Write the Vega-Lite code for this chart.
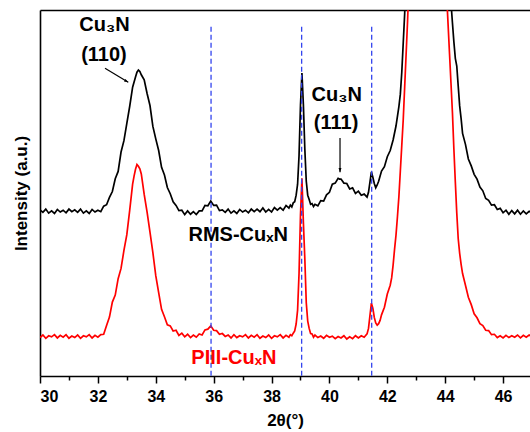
{
  "$schema": "https://vega.github.io/schema/vega-lite/v6.json",
  "autosize": "none",
  "width": 490,
  "height": 366,
  "padding": {"left": 40, "top": 10, "right": 0, "bottom": 56},
  "background": "white",
  "config": {"view": {"stroke": null}, "font": "Liberation Sans"},
  "datasets": {
    "rms": [
      {"t":30.0,"i":45.4},{"t":30.1,"i":44.7},{"t":30.2,"i":45.6},{"t":30.3,"i":44.5},{"t":30.4,"i":45.1},{"t":30.5,"i":44.4},{"t":30.6,"i":45.5},{"t":30.7,"i":44.8},{"t":30.8,"i":45.3},{"t":30.9,"i":44.6},
      {"t":31.0,"i":45.6},{"t":31.1,"i":44.9},{"t":31.2,"i":45.4},{"t":31.3,"i":44.7},{"t":31.4,"i":45.6},{"t":31.5,"i":44.5},{"t":31.6,"i":45.1},{"t":31.7,"i":44.4},{"t":31.8,"i":45.5},{"t":31.9,"i":44.8},
      {"t":32.0,"i":45.3},{"t":32.1,"i":44.9},{"t":32.2,"i":46.4},{"t":32.3,"i":46.8},{"t":32.4,"i":48.8},{"t":32.5,"i":50.4},{"t":32.6,"i":53.9},{"t":32.7,"i":55.9},{"t":32.8,"i":61.2},{"t":32.9,"i":64.3},
      {"t":33.0,"i":69.0},{"t":33.1,"i":73.7},{"t":33.2,"i":78.9},{"t":33.3,"i":81.7},{"t":33.35,"i":83.0},{"t":33.4,"i":83.6},{"t":33.45,"i":83.2},{"t":33.5,"i":82.3},{"t":33.6,"i":80.9},{"t":33.7,"i":77.2},{"t":33.8,"i":73.9},{"t":33.9,"i":68.2},
      {"t":34.0,"i":64.8},{"t":34.1,"i":61.6},{"t":34.2,"i":57.0},{"t":34.3,"i":54.9},{"t":34.4,"i":51.5},{"t":34.5,"i":49.8},{"t":34.6,"i":47.6},{"t":34.7,"i":46.6},{"t":34.8,"i":45.2},{"t":34.9,"i":45.3},
      {"t":35.0,"i":44.1},{"t":35.1,"i":45.1},{"t":35.2,"i":44.2},{"t":35.3,"i":44.9},{"t":35.4,"i":44.1},{"t":35.5,"i":45.1},{"t":35.6,"i":45.1},{"t":35.7,"i":46.6},{"t":35.8,"i":46.5},{"t":35.9,"i":47.8},
      {"t":36.0,"i":46.6},{"t":36.1,"i":46.7},{"t":36.2,"i":45.2},{"t":36.3,"i":45.4},{"t":36.4,"i":44.7},{"t":36.5,"i":45.6},{"t":36.6,"i":44.5},{"t":36.7,"i":45.1},{"t":36.8,"i":44.4},{"t":36.9,"i":45.5},
      {"t":37.0,"i":44.8},{"t":37.1,"i":45.3},{"t":37.2,"i":44.6},{"t":37.3,"i":45.6},{"t":37.4,"i":44.9},{"t":37.5,"i":45.6},{"t":37.6,"i":44.9},{"t":37.7,"i":45.9},{"t":37.8,"i":44.8},{"t":37.9,"i":45.5},
      {"t":38.0,"i":44.8},{"t":38.1,"i":46.0},{"t":38.2,"i":45.3},{"t":38.3,"i":46.0},{"t":38.4,"i":45.3},{"t":38.5,"i":46.6},{"t":38.6,"i":45.9},{"t":38.65,"i":46.7},{"t":38.7,"i":46.2},{"t":38.75,"i":47.3},
      {"t":38.8,"i":47.6},{"t":38.85,"i":49.4},{"t":38.9,"i":52.4},{"t":38.95,"i":60.2},{"t":39.0,"i":74.0},{"t":39.05,"i":82.8},{"t":39.1,"i":74.2},{"t":39.15,"i":62.0},{"t":39.2,"i":53.2},{"t":39.25,"i":49.4},
      {"t":39.3,"i":48.2},{"t":39.35,"i":46.9},{"t":39.4,"i":47.1},{"t":39.45,"i":46.3},{"t":39.5,"i":46.9},{"t":39.6,"i":46.5},{"t":39.7,"i":47.9},{"t":39.8,"i":47.8},{"t":39.9,"i":49.5},
      {"t":40.0,"i":50.2},{"t":40.1,"i":52.4},{"t":40.2,"i":52.7},{"t":40.3,"i":54.0},{"t":40.35,"i":53.8},{"t":40.4,"i":53.8},{"t":40.5,"i":52.7},{"t":40.6,"i":52.6},{"t":40.7,"i":51.1},{"t":40.8,"i":51.4},{"t":40.9,"i":49.9},
      {"t":41.0,"i":50.5},{"t":41.1,"i":49.4},{"t":41.2,"i":49.7},{"t":41.3,"i":48.9},{"t":41.35,"i":50.2},{"t":41.4,"i":53.0},{"t":41.45,"i":55.8},{"t":41.5,"i":54.3},{"t":41.55,"i":52.6},{"t":41.6,"i":51.4},
      {"t":41.65,"i":52.2},{"t":41.7,"i":53.2},{"t":41.8,"i":56.0},{"t":41.9,"i":57.2},{"t":42.0,"i":59.9},{"t":42.1,"i":61.6},{"t":42.2,"i":64.5},{"t":42.3,"i":68.3},{"t":42.4,"i":73.6},{"t":42.45,"i":77.0},
      {"t":42.5,"i":83.0},{"t":42.55,"i":91.0},{"t":42.6,"i":99.0},{"t":42.65,"i":110},{"t":42.7,"i":125},{"t":42.8,"i":160},{"t":43.0,"i":250},{"t":43.35,"i":350},{"t":43.7,"i":250},{"t":43.9,"i":180},
      {"t":44.0,"i":145},{"t":44.1,"i":118},{"t":44.15,"i":108},{"t":44.2,"i":102},{"t":44.25,"i":96.5},{"t":44.3,"i":91.3},{"t":44.35,"i":86.8},{"t":44.4,"i":84.7},{"t":44.45,"i":79.2},{"t":44.5,"i":73.8},
      {"t":44.55,"i":70.3},{"t":44.6,"i":66.3},{"t":44.7,"i":63.3},{"t":44.8,"i":59.3},{"t":44.9,"i":57.4},{"t":45.0,"i":55.1},{"t":45.1,"i":53.8},{"t":45.2,"i":51.6},{"t":45.3,"i":50.6},{"t":45.4,"i":48.5},
      {"t":45.5,"i":48.0},{"t":45.6,"i":46.7},{"t":45.7,"i":46.8},{"t":45.8,"i":45.5},{"t":45.9,"i":45.8},{"t":46.0,"i":44.6},{"t":46.1,"i":45.3},{"t":46.2,"i":44.2},{"t":46.3,"i":45.2},{"t":46.4,"i":44.3},
      {"t":46.5,"i":45.3},{"t":46.6,"i":44.2},{"t":46.7,"i":45.1},{"t":46.8,"i":44.3},{"t":46.9,"i":45.0},{"t":47.0,"i":44.5}
    ],
    "piii": [
      {"t":30.0,"i":10.5},{"t":30.1,"i":11.2},{"t":30.2,"i":10.3},{"t":30.3,"i":11.0},{"t":30.4,"i":10.7},{"t":30.5,"i":11.3},{"t":30.6,"i":10.4},{"t":30.7,"i":11.1},{"t":30.8,"i":10.6},{"t":30.9,"i":11.3},
      {"t":31.0,"i":10.3},{"t":31.1,"i":10.9},{"t":31.2,"i":10.5},{"t":31.3,"i":11.2},{"t":31.4,"i":10.3},{"t":31.5,"i":11.0},{"t":31.6,"i":10.7},{"t":31.7,"i":11.3},{"t":31.8,"i":10.4},{"t":31.9,"i":11.1},
      {"t":32.0,"i":10.6},{"t":32.1,"i":11.3},{"t":32.2,"i":11.4},{"t":32.3,"i":13.8},{"t":32.4,"i":16.1},{"t":32.5,"i":20.2},{"t":32.6,"i":22.1},{"t":32.7,"i":26.6},{"t":32.8,"i":29.4},{"t":32.9,"i":34.3},
      {"t":33.0,"i":38.6},{"t":33.1,"i":45.3},{"t":33.2,"i":52.4},{"t":33.25,"i":54.6},{"t":33.3,"i":56.5},{"t":33.35,"i":57.8},{"t":33.4,"i":57.3},{"t":33.45,"i":56.6},{"t":33.5,"i":55.2},{"t":33.6,"i":49.6},
      {"t":33.7,"i":44.8},{"t":33.8,"i":39.3},{"t":33.9,"i":33.7},{"t":34.0,"i":27.4},{"t":34.1,"i":22.8},{"t":34.2,"i":18.2},{"t":34.3,"i":16.2},{"t":34.4,"i":14.0},{"t":34.5,"i":13.7},{"t":34.6,"i":12.3},
      {"t":34.7,"i":12.5},{"t":34.8,"i":11.1},{"t":34.9,"i":11.7},{"t":35.0,"i":10.7},{"t":35.1,"i":11.4},{"t":35.2,"i":10.5},{"t":35.3,"i":11.2},{"t":35.4,"i":10.6},{"t":35.5,"i":11.5},{"t":35.6,"i":11.2},
      {"t":35.7,"i":12.6},{"t":35.8,"i":12.8},{"t":35.9,"i":13.7},{"t":36.0,"i":12.5},{"t":36.1,"i":12.4},{"t":36.2,"i":11.4},{"t":36.3,"i":11.6},{"t":36.4,"i":10.8},{"t":36.5,"i":11.2},{"t":36.6,"i":10.4},
      {"t":36.7,"i":11.3},{"t":36.8,"i":10.5},{"t":36.9,"i":11.0},{"t":37.0,"i":10.7},{"t":37.1,"i":11.3},{"t":37.2,"i":10.4},{"t":37.3,"i":11.1},{"t":37.4,"i":10.6},{"t":37.5,"i":11.3},{"t":37.6,"i":10.3},
      {"t":37.7,"i":10.9},{"t":37.8,"i":10.5},{"t":37.9,"i":11.2},{"t":38.0,"i":10.3},{"t":38.1,"i":11.0},{"t":38.2,"i":10.7},{"t":38.3,"i":11.3},{"t":38.4,"i":10.4},{"t":38.5,"i":11.1},{"t":38.6,"i":10.6},
      {"t":38.65,"i":11.3},{"t":38.7,"i":11.0},{"t":38.75,"i":11.7},{"t":38.8,"i":12.3},{"t":38.85,"i":14.2},{"t":38.9,"i":18.0},{"t":38.95,"i":28.0},{"t":39.0,"i":44.0},{"t":39.05,"i":54.0},{"t":39.1,"i":42.0},
      {"t":39.15,"i":32.0},{"t":39.2,"i":20.0},{"t":39.25,"i":15.0},{"t":39.3,"i":13.0},{"t":39.35,"i":11.6},{"t":39.4,"i":11.5},{"t":39.45,"i":10.6},{"t":39.5,"i":11.2},{"t":39.6,"i":10.5},{"t":39.7,"i":10.9},
      {"t":39.8,"i":10.3},{"t":39.9,"i":11.1},{"t":40.0,"i":10.6},{"t":40.1,"i":10.9},{"t":40.2,"i":10.2},{"t":40.3,"i":10.8},{"t":40.4,"i":10.4},{"t":40.5,"i":11.0},{"t":40.6,"i":10.1},{"t":40.7,"i":10.7},
      {"t":40.8,"i":10.2},{"t":40.9,"i":11.0},{"t":41.0,"i":10.4},{"t":41.1,"i":11.0},{"t":41.2,"i":10.6},{"t":41.3,"i":11.5},{"t":41.35,"i":13.0},{"t":41.4,"i":16.5},{"t":41.45,"i":19.9},{"t":41.5,"i":18.5},
      {"t":41.55,"i":16.0},{"t":41.6,"i":14.5},{"t":41.65,"i":13.9},{"t":41.7,"i":14.3},{"t":41.75,"i":15.2},{"t":41.8,"i":16.7},{"t":41.9,"i":18.8},{"t":42.0,"i":22.4},{"t":42.1,"i":24.8},{"t":42.15,"i":26.8},
      {"t":42.2,"i":30.3},{"t":42.25,"i":34.6},{"t":42.3,"i":38.5},{"t":42.35,"i":43.5},{"t":42.4,"i":49},{"t":42.45,"i":56},{"t":42.5,"i":63},{"t":42.55,"i":70},{"t":42.6,"i":79},{"t":42.65,"i":88},
      {"t":42.7,"i":97},{"t":42.75,"i":108},{"t":42.8,"i":122},{"t":43.0,"i":200},{"t":43.37,"i":300},{"t":43.7,"i":200},{"t":43.9,"i":140},{"t":44.0,"i":115},{"t":44.05,"i":104},{"t":44.1,"i":96},
      {"t":44.15,"i":88},{"t":44.2,"i":80},{"t":44.25,"i":72},{"t":44.3,"i":62},{"t":44.35,"i":53},{"t":44.4,"i":44.5},{"t":44.45,"i":37.5},{"t":44.5,"i":33.5},{"t":44.55,"i":30.5},{"t":44.6,"i":28.0},
      {"t":44.7,"i":24.8},{"t":44.8,"i":21.5},{"t":44.9,"i":19.5},{"t":45.0,"i":17.0},{"t":45.1,"i":15.9},{"t":45.2,"i":14.3},{"t":45.3,"i":13.8},{"t":45.4,"i":12.5},{"t":45.5,"i":12.4},{"t":45.6,"i":11.3},
      {"t":45.7,"i":11.4},{"t":45.8,"i":10.5},{"t":45.9,"i":11.0},{"t":46.0,"i":10.4},{"t":46.1,"i":11.1},{"t":46.2,"i":10.5},{"t":46.3,"i":11.0},{"t":46.4,"i":10.6},{"t":46.5,"i":11.2},{"t":46.6,"i":10.4},
      {"t":46.7,"i":11.1},{"t":46.8,"i":10.6},{"t":46.9,"i":11.2},{"t":47.0,"i":10.7}
    ],
    "refs": [{"t":35.91},{"t":39.04},{"t":41.46}],
    "arrows": [
      {"t":32.246,"i":84.07,"t2":33.05,"i2":80.25,"dir":-59},
      {"t":40.366,"i":65.0,"t2":40.366,"i2":55.7,"dir":0}
    ],
    "labels": [
      {"t":32.23,"i":95.9,"label":"Cu₃N","grp":"rms"},
      {"t":32.21,"i":87.7,"label":"(110)","grp":"rms"},
      {"t":40.25,"i":76.8,"label":"Cu₃N","grp":"rms"},
      {"t":40.23,"i":69.0,"label":"(111)","grp":"rms"},
      {"t":36.85,"i":38.5,"label":"RMS-CuₓN","grp":"rms"},
      {"t":36.70,"i":5.05,"label":"PIII-CuₓN","grp":"piii"}
    ]
  },
  "resolve": {"axis": {"x": "independent", "y": "independent"}},
  "layer": [
    {
      "data": {"name": "rms"},
      "mark": {"type": "line", "color": "black", "strokeWidth": 1.7, "clip": true},
      "encoding": {
        "x": {"field": "t", "type": "quantitative", "scale": {"domain": [30, 46.93], "nice": false, "zero": false},
          "axis": {"orient": "bottom", "values": [30,31,32,33,34,35,36,37,38,39,40,41,42,43,44,45,46],
            "labelExpr": "datum.value % 2 === 0 ? datum.label : ''",
            "tickSize": {"condition": {"test": "datum.value % 2 === 0", "value": 7}, "value": 4},
            "tickColor": "black", "tickWidth": 1.5, "domainColor": "black", "domainWidth": 1.6, "grid": false,
            "labelFont": "Liberation Sans", "labelFontWeight": "bold", "labelFontSize": 16, "labelColor": "black", "labelPadding": 5,
            "title": "2θ(°)", "titleFont": "Liberation Sans", "titleFontWeight": "bold", "titleFontSize": 17, "titleColor": "black", "titlePadding": 8}},
        "y": {"field": "i", "type": "quantitative", "scale": {"domain": [0, 100], "nice": false, "zero": false},
          "axis": {"orient": "left", "ticks": false, "labels": false, "grid": false, "domainColor": "black", "domainWidth": 1.6,
            "title": "Intensity (a.u.)", "titleFont": "Liberation Sans", "titleFontWeight": "bold", "titleFontSize": 17, "titleColor": "black", "titlePadding": 10}}
      }
    },
    {
      "data": {"name": "piii"},
      "mark": {"type": "line", "color": "#ff0000", "strokeWidth": 1.7, "clip": true},
      "encoding": {
        "x": {"field": "t", "type": "quantitative", "axis": null},
        "y": {"field": "i", "type": "quantitative", "axis": null}
      }
    },
    {
      "data": {"name": "refs"},
      "mark": {"type": "rule", "color": "#3344ee", "strokeWidth": 1.3, "strokeDash": [5, 3]},
      "encoding": {
        "x": {"field": "t", "type": "quantitative",
          "axis": {"orient": "top", "ticks": false, "labels": false, "grid": false, "title": null, "domainColor": "black", "domainWidth": 1.6}},
        "y": {"datum": 95.4, "axis": null},
        "y2": {"datum": 0}
      }
    },
    {
      "data": {"name": "arrows"},
      "mark": {"type": "rule", "color": "black", "strokeWidth": 1.2},
      "encoding": {
        "x": {"field": "t", "type": "quantitative", "axis": null},
        "y": {"field": "i", "type": "quantitative", "axis": null},
        "x2": {"field": "t2"},
        "y2": {"field": "i2"}
      }
    },
    {
      "data": {"name": "arrows"},
      "mark": {"type": "point", "shape": "M -0.35 -1 L 0.35 -1 L 0 0 Z", "filled": true, "color": "black", "size": 70, "opacity": 1},
      "encoding": {
        "x": {"field": "t2", "type": "quantitative", "axis": null},
        "y": {"field": "i2", "type": "quantitative", "axis": null},
        "angle": {"field": "dir", "type": "quantitative", "scale": null}
      }
    },
    {
      "data": {"name": "labels"},
      "mark": {"type": "text", "font": "Liberation Sans", "fontWeight": "bold", "fontSize": 20, "align": "center", "baseline": "middle"},
      "encoding": {
        "x": {"field": "t", "type": "quantitative", "axis": null},
        "y": {"field": "i", "type": "quantitative", "axis": null},
        "text": {"field": "label"},
        "color": {"field": "grp", "type": "nominal", "scale": {"domain": ["rms", "piii"], "range": ["black", "#ff0000"]}, "legend": null}
      }
    }
  ]
}
